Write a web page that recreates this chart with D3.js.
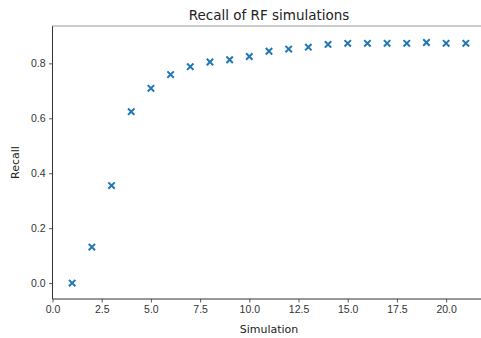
<!DOCTYPE html>
<html>
<head>
<meta charset="utf-8">
<script src="https://cdn.jsdelivr.net/npm/d3@7"></script>
<style>
  body { margin: 0; background: #fff; }
  svg { display: block; font-family: "DejaVu Sans", sans-serif; }
</style>
</head>
<body>
<svg id="chart" width="481" height="338"></svg>
<script>
// data
const simulations = [1, 2, 3, 4, 5, 6, 7, 8, 9, 10, 11, 12, 13, 14, 15, 16, 17, 18, 19, 20, 21]
const recall = [0.0, 0.131, 0.355, 0.624, 0.709, 0.759, 0.788, 0.805, 0.813, 0.825, 0.844,
  0.852, 0.859, 0.869, 0.873, 0.873, 0.873, 0.873, 0.876, 0.873, 0.873]
const xTicks = [0, 2.5, 5, 7.5, 10, 12.5, 15, 17.5, 20]
const yTicks = [0, 0.2, 0.4, 0.6, 0.8]

const margin = { left: 52.5, top: 26, right: 485.5, bottom: 299 }
const svg = d3.select('#chart')

const x = d3.scaleLinear().domain([0, 22]).range([margin.left, margin.right])
const y = d3.scaleLinear().domain([-0.058, 0.936]).range([margin.bottom, margin.top])

const xAxis = d3.axisBottom(x).tickValues(xTicks).tickFormat(d3.format('.1f'))
  .tickSize(3.5).tickPadding(3.5)
const yAxis = d3.axisLeft(y).tickValues(yTicks).tickFormat(d3.format('.1f'))
  .tickSize(3.5).tickPadding(3.5)

const gx = svg.append('g').attr('transform', `translate(0, ${margin.bottom})`).call(xAxis)
const gy = svg.append('g').attr('transform', `translate(${margin.left}, 0)`).call(yAxis)

for (const g of [gx, gy]) {
  g.select('.domain').remove()
  g.selectAll('.tick line').attr('stroke', '#333').attr('stroke-width', 0.8)
  g.selectAll('.tick text').attr('fill', '#333').style('font-size', '10.5px')
}

// spines
svg.append('line').attr('x1', margin.left).attr('x2', margin.right)
  .attr('y1', margin.bottom).attr('y2', margin.bottom).attr('stroke', '#333').attr('stroke-width', 1)
svg.append('line').attr('x1', margin.left).attr('x2', margin.left)
  .attr('y1', margin.top).attr('y2', margin.bottom).attr('stroke', '#333').attr('stroke-width', 1)
svg.append('line').attr('x1', margin.left).attr('x2', margin.right)
  .attr('y1', margin.top).attr('y2', margin.top).attr('stroke', '#999').attr('stroke-width', 1)

// x markers
const s = 3.2
svg.append('g').selectAll('path')
  .data(simulations.map((d, i) => [d, recall[i]]))
  .join('path')
  .attr('d', d => {
    const cx = x(d[0]), cy = y(d[1])
    return `M${cx - s},${cy - s}L${cx + s},${cy + s}M${cx - s},${cy + s}L${cx + s},${cy - s}`
  })
  .attr('stroke', '#1f77b4')
  .attr('stroke-width', 2)

svg.append('text').attr('x', (margin.left + margin.right) / 2).attr('y', 20)
  .attr('text-anchor', 'middle').style('font-size', '13.5px').attr('fill', '#222')
  .text('Recall of RF simulations')

svg.append('text').attr('x', (margin.left + margin.right) / 2).attr('y', 333)
  .attr('text-anchor', 'middle').style('font-size', '11px').attr('fill', '#222')
  .text('Simulation')

svg.append('text')
  .attr('transform', `translate(18.5, ${(margin.top + margin.bottom) / 2}) rotate(-90)`)
  .attr('text-anchor', 'middle').style('font-size', '11px').attr('fill', '#222')
  .text('Recall')
</script>
</body>
</html>
